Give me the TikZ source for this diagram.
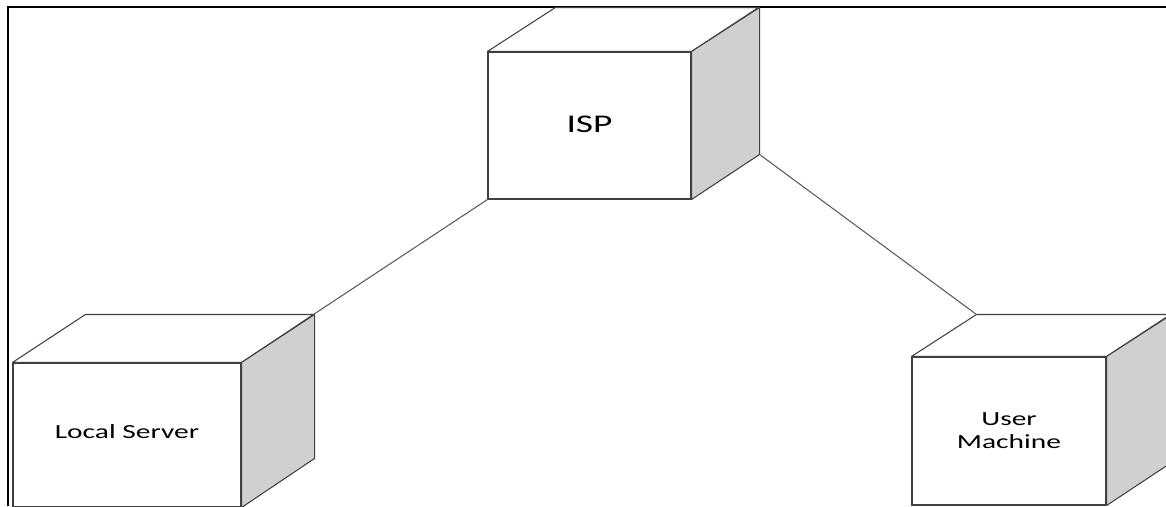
\documentclass[tikz,border=0pt]{standalone}
\usepackage{fontspec}
\setmainfont{Carlito}
\usepackage{graphicx}
\usepackage{xcolor}
\definecolor{edgegray}{HTML}{404040}
\definecolor{sidegray}{HTML}{D0D0D0}
\definecolor{linkgray}{HTML}{5A5A5A}
\newcommand{\widetext}[1]{\scalebox{1.47}[1]{#1}}

\begin{document}
\begin{tikzpicture}[
    front/.style={draw=edgegray, fill=white, line width=0.6pt, align=center, inner sep=0pt},
    face/.style={draw=edgegray, line width=0.6pt, line join=round},
    link/.style={draw=linkgray, line width=0.6pt}
  ]
    \useasboundingbox (0, 0) rectangle (23.32, 10.12);
    \clip (0, 0) rectangle (23.32, 10.12);
    % frame
    \draw[line width=1.4pt] (0.16, 0)--(0.16, 9.98)--(23.32, 9.98);
    % ISP
    \node[front, minimum width=4.06cm, minimum height=2.94cm, font=\fontsize{14.5}{17}\selectfont](isp) at (11.79, 7.61) {\raisebox{0.06cm}{\widetext{ISP}}};
    \draw[face, fill=white] (isp.north west)--++(1.36, 0.88)--++(4.06, 0)--(isp.north east)--cycle;
    \draw[face, fill=sidegray] (isp.north east)--++(1.36, 0.88)--++(0, -2.94) coordinate(ispbbr)--(isp.south east)--cycle;
    % local server
    \node[front, minimum width=4.56cm, minimum height=2.88cm, font=\fontsize{11.4}{13}\selectfont](srv) at (2.54, 1.42) {\raisebox{0.12cm}{\widetext{Local Server}}};
    \draw[face, fill=white] (srv.north west)--++(1.46, 0.96)--++(4.56, 0) coordinate(srvbtr)--(srv.north east)--cycle;
    \draw[face, fill=sidegray] (srv.north east)--++(1.46, 0.96)--++(0, -2.88)--(srv.south east)--cycle;
    % user machine
    \node[front, minimum width=3.88cm, minimum height=2.96cm, font=\fontsize{11.4}{13}\selectfont](usr) at (20.18, 1.50) {\widetext{User}\\\widetext{Machine}};
    \draw[face, fill=white] (usr.north west)--++(1.3, 0.84) coordinate(usrbtl)--++(3.88, 0)--(usr.north east)--cycle;
    \draw[face, fill=sidegray] (usr.north east)--++(1.3, 0.84)--++(0, -2.96)--(usr.south east)--cycle;
    % links
    \draw[link] (isp.south west)--(srvbtr);
    \draw[link] (ispbbr)--(usrbtl);
  \end{tikzpicture}
\end{document}
